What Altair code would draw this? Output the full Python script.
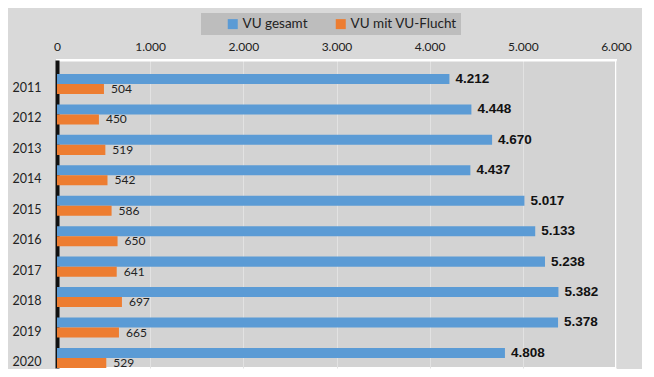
import altair as alt
import pandas as pd

years = [str(y) for y in range(2011, 2021)]
gesamt = [4212, 4448, 4670, 4437, 5017, 5133, 5238, 5382, 5378, 4808]
flucht = [504, 450, 519, 542, 586, 650, 641, 697, 665, 529]
series = ["VU gesamt", "VU mit VU-Flucht"]
ticks = [0, 1000, 2000, 3000, 4000, 5000, 6000]

rows = []
for yr, g, f in zip(years, gesamt, flucht):
    rows.append({"Jahr": yr, "Serie": series[0], "Wert": g, "Label": f"{g:,}".replace(",", ".")})
    rows.append({"Jahr": yr, "Serie": series[1], "Wert": f, "Label": f"{f:,}".replace(",", ".")})
df = pd.DataFrame(rows)

y_enc = alt.Y("Jahr:N", sort=years,
              scale=alt.Scale(paddingInner=0.34, paddingOuter=0.229, align=1.0),
              axis=alt.Axis(title=None, ticks=False, domainColor="#111111", domainWidth=4,
                            labelPadding=16, labelFontSize=12.5, labelColor="#222222",
                            labelFont="Lato", labelOffset=4))
yoff = alt.YOffset("Serie:N", sort=series, scale=alt.Scale(domain=series, paddingInner=0, paddingOuter=0))
x_enc = alt.X("Wert:Q", scale=alt.Scale(domain=[0, 6000], nice=False),
              axis=alt.Axis(orient="top", values=ticks, title=None,
                            labelExpr="replace(format(datum.value, ',d'), ',', '.')",
                            labelFlush=False,
                            grid=True, gridColor="#e2e2e2", gridWidth=1,
                            domainColor="white", domainWidth=2,
                            ticks=False,
                            labelFontSize=12, labelColor="#222222", labelFont="Lato",
                            labelPadding=7))
last_label = series[1]
pad_right = "\u2007\u2007\u2007"
color = alt.Color("Serie:N", sort=series,
                  scale=alt.Scale(domain=series, range=["#5b9bd5", "#ed7d31"]),
                  legend=alt.Legend(title=" ", titleOrient="left", titlePadding=21, titleFontSize=13,
                                    orient="none", direction="horizontal",
                                    legendX=144, legendY=-47, fillColor="#bdbdbd",
                                    symbolType="square", symbolSize=100, symbolStrokeWidth=0,
                                    labelFontSize=13.5, labelFont="Lato", labelColor="#222222",
                                    labelExpr=f"datum.label == '{last_label}' ? datum.label + '{pad_right}' : datum.label",
                                    padding=4, columnPadding=26, labelOffset=3))

base = alt.Chart(df)
bars = base.mark_bar().encode(x=x_enc, y=y_enc, yOffset=yoff, color=color)
text_g = base.transform_filter(alt.datum.Serie == series[0]).mark_text(
    align="left", baseline="middle", dx=6, fontWeight="bold", fontSize=13.5,
    font="Liberation Sans", color="#111111").encode(
    x="Wert:Q", y=alt.Y("Jahr:N", sort=years), yOffset=yoff, text="Label:N")
text_f = base.transform_filter(alt.datum.Serie == series[1]).mark_text(
    align="left", baseline="middle", dx=7, fontSize=12,
    font="Lato", color="#222222").encode(
    x="Wert:Q", y=alt.Y("Jahr:N", sort=years), yOffset=yoff, text="Label:N")

chart = alt.layer(bars, text_g, text_f).properties(
    width=559, height=308, background="#d9d9d9",
    padding={"left": 4, "top": 5, "right": 10, "bottom": 0}
).configure_view(stroke="white", strokeWidth=2, fill="#d3d3d3")

chart.save("out.html", embed_options={"renderer": "svg", "actions": False})
